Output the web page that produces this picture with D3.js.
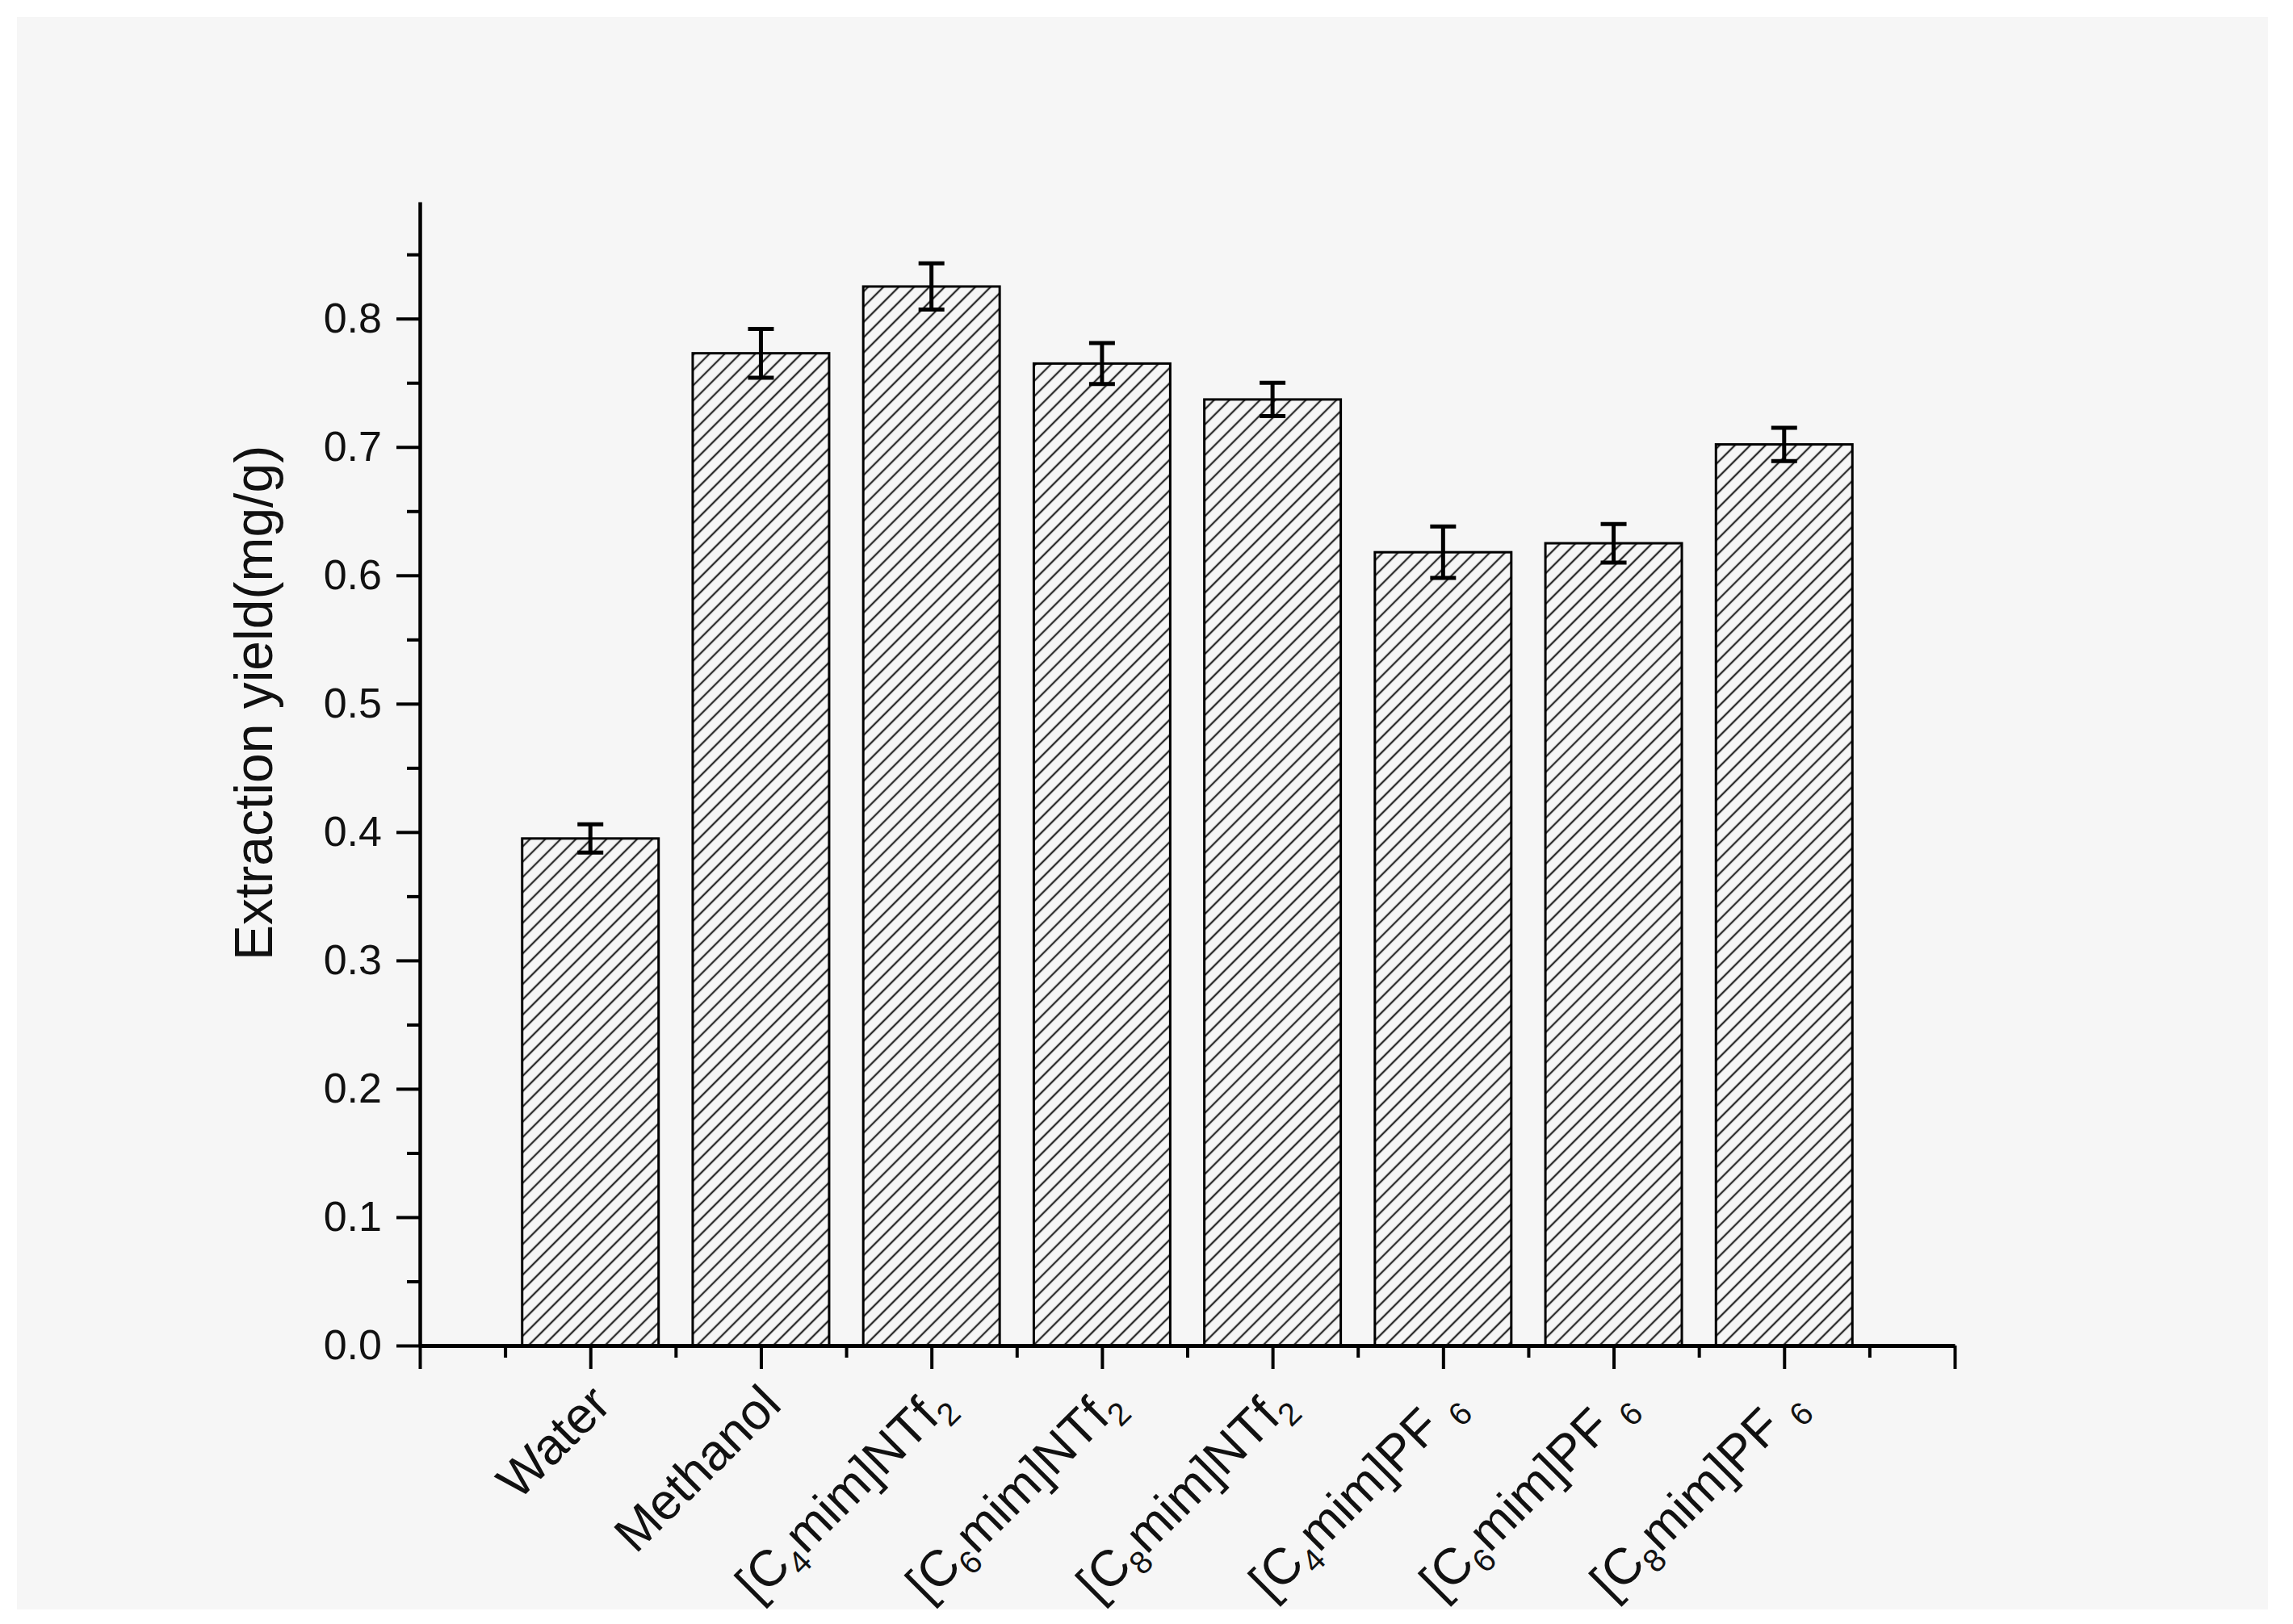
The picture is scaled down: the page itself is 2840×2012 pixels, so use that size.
<!DOCTYPE html>
<html>
<head>
<meta charset="utf-8">
<script src="https://cdn.jsdelivr.net/npm/d3@7"></script>
<style>
  html, body { margin: 0; padding: 0; background: #ffffff; }
  svg { display: block; }
  text { font-family: "Liberation Sans", Arial, sans-serif; fill: #111; }
</style>
</head>
<body>
<svg id="chart" width="2840" height="2012"></svg>
<script>
// ---- data ----
const categories = [
  "Water",
  "Methanol",
  "[C_{4}mim]NTf_{2}",
  "[C_{6}mim]NTf_{2}",
  "[C_{8}mim]NTf_{2}",
  "[C_{4}mim]PF _{6}",
  "[C_{6}mim]PF _{6}",
  "[C_{8}mim]PF _{6}"
];
const values = [0.395, 0.773, 0.825, 0.765, 0.737, 0.618, 0.625, 0.702];
const errors = [0.011, 0.019, 0.018, 0.016, 0.013, 0.020, 0.015, 0.013];
const yTickValues = [0.0, 0.1, 0.2, 0.3, 0.4, 0.5, 0.6, 0.7, 0.8];
const yMinorTickValues = [0.05, 0.15, 0.25, 0.35, 0.45, 0.55, 0.65, 0.75, 0.85];
const yTitle = "Extraction yield(mg/g)";

// ---- layout ----
const W = 2840, H = 2012;
const plotLeft = 520, plotRight = 2421, plotBottom = 1667, plotTop = 250;
const yMax = 0.891;

const svg = d3.select("#chart");

// panel background
svg.append("rect").attr("x", 0).attr("y", 0).attr("width", W).attr("height", H).attr("fill", "#ffffff");
svg.append("rect").attr("x", 21).attr("y", 21).attr("width", 2788).attr("height", 1973).attr("fill", "#f6f6f6");

// hatch pattern
const defs = svg.append("defs");
const pat = defs.append("pattern")
  .attr("id", "hatch")
  .attr("patternUnits", "userSpaceOnUse")
  .attr("width", 13.4).attr("height", 13.4)
  .attr("patternTransform", "rotate(45)");
pat.append("rect").attr("width", 13.4).attr("height", 13.4).attr("fill", "#f6f6f6");
pat.append("line").attr("x1", 6.7).attr("y1", -1).attr("x2", 6.7).attr("y2", 14.4)
  .attr("stroke", "#2a2a2a").attr("stroke-width", 2.3);

// scales
const x = d3.scaleLinear().domain([0, categories.length + 1]).range([plotLeft, plotRight]);
const y = d3.scaleLinear().domain([0, yMax]).range([plotBottom, plotTop]);
const barW = x(0.8) - x(0);

// bars
svg.append("g").selectAll("rect").data(values).join("rect")
  .attr("x", (d, i) => x(i + 1) - barW / 2)
  .attr("y", d => y(d))
  .attr("width", barW)
  .attr("height", d => y(0) - y(d))
  .attr("fill", "url(#hatch)")
  .attr("stroke", "#000")
  .attr("stroke-width", 3);

// error bars
const eg = svg.append("g").attr("stroke", "#000").attr("stroke-width", 5);
values.forEach((v, i) => {
  const cx = x(i + 1), cap = 16;
  eg.append("line").attr("x1", cx).attr("x2", cx).attr("y1", y(v - errors[i])).attr("y2", y(v + errors[i]));
  eg.append("line").attr("x1", cx - cap).attr("x2", cx + cap).attr("y1", y(v + errors[i])).attr("y2", y(v + errors[i]));
  eg.append("line").attr("x1", cx - cap).attr("x2", cx + cap).attr("y1", y(v - errors[i])).attr("y2", y(v - errors[i]));
});

// y axis
const yAxis = svg.append("g").attr("transform", `translate(${plotLeft},0)`)
  .call(d3.axisLeft(y).tickValues(yTickValues).tickFormat(d3.format(".1f")).tickSize(29).tickSizeOuter(0).tickPadding(18));
yAxis.select(".domain").attr("stroke-width", 4.5);
yAxis.selectAll(".tick line").attr("stroke-width", 4);
yAxis.selectAll(".tick text").style("font-size", "52px").attr("fill", "#111");
const yMinor = svg.append("g").attr("transform", `translate(${plotLeft},0)`)
  .call(d3.axisLeft(y).tickValues(yMinorTickValues).tickSize(16).tickSizeOuter(0).tickFormat(""));
yMinor.select(".domain").remove();
yMinor.selectAll(".tick line").attr("stroke-width", 4);

// x axis
const xMajor = d3.range(0, categories.length + 2);
const xMinor = d3.range(0, categories.length + 1).map(d => d + 0.5);
const xAxis = svg.append("g").attr("transform", `translate(0,${plotBottom})`)
  .call(d3.axisBottom(x).tickValues(xMajor).tickSize(29).tickSizeOuter(0).tickFormat(""));
xAxis.select(".domain").attr("stroke-width", 5);
xAxis.selectAll(".tick line").attr("stroke-width", 4);
const xAxisMinor = svg.append("g").attr("transform", `translate(0,${plotBottom})`)
  .call(d3.axisBottom(x).tickValues(xMinor).tickSize(15).tickSizeOuter(0).tickFormat(""));
xAxisMinor.select(".domain").remove();
xAxisMinor.selectAll(".tick line").attr("stroke-width", 4);

// x category labels (rotated, with subscripts)
const labelFont = 63, subFont = 40, subShift = 15;
const lg = svg.append("g");
categories.forEach((c, i) => {
  const t = lg.append("text")
    .attr("transform", `translate(${x(i + 1) + 28},${plotBottom + 76}) rotate(-45)`)
    .attr("text-anchor", "end")
    .style("font-size", labelFont + "px");
  const parts = c.split(/(_\{[^}]*\})/).filter(s => s.length);
  let shifted = false;
  parts.forEach(p => {
    const m = p.match(/^_\{([^}]*)\}$/);
    if (m) {
      t.append("tspan").attr("dy", subShift).style("font-size", subFont + "px").text(m[1]);
      shifted = true;
    } else {
      const ts = t.append("tspan").text(p);
      if (shifted) { ts.attr("dy", -subShift); shifted = false; }
    }
  });
});

// y title
svg.append("text")
  .attr("transform", `translate(314,871) rotate(-90)`)
  .attr("text-anchor", "middle")
  .attr("dominant-baseline", "central")
  .style("font-size", "66px")
  .text(yTitle);
</script>
</body>
</html>
